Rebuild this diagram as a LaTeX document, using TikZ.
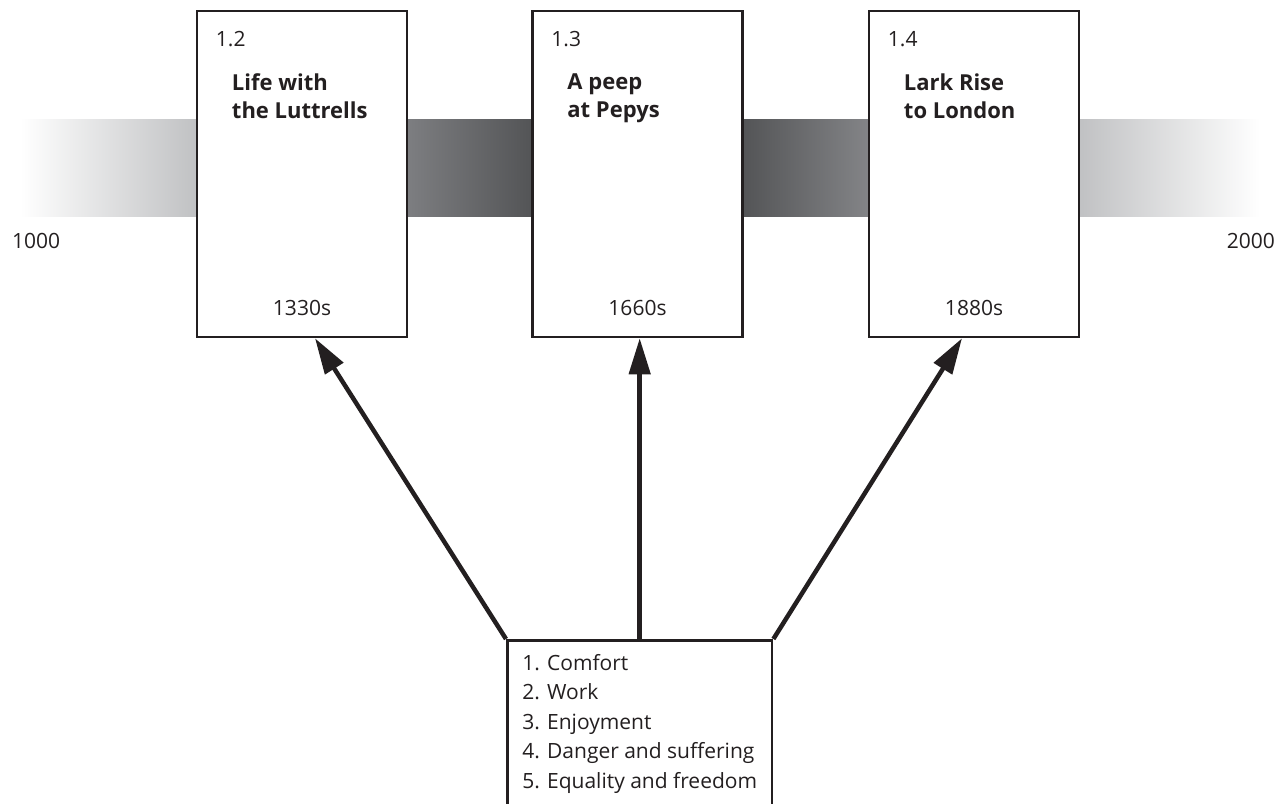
\documentclass[tikz,border=0pt]{standalone}
\usepackage{fontspec}
\setmainfont{Open Sans}
\usetikzlibrary{arrows.meta,positioning}

\definecolor{ink}{RGB}{35,31,32}
\definecolor{bandlight}{RGB}{191,192,194}
\definecolor{bandmid}{RGB}{126,127,130}
\definecolor{banddark}{RGB}{82,83,85}

\tikzset{
  era/.style={draw=ink, fill=white, line width=2.5pt, minimum width=210pt, minimum height=326pt, inner sep=0pt},
  lbl/.style={inner sep=0pt, text=ink, font=\fontsize{21}{25}\selectfont},
  ttl/.style={inner sep=0pt, text=ink, align=left, font=\fontsize{22}{28}\selectfont\bfseries},
  link/.style={draw=ink, line width=4.5pt, -{Triangle[length=36pt,width=21pt]}},
}

\begin{document}
\begin{tikzpicture}[x=1pt,y=-1pt]
\useasboundingbox (0,0) rectangle (1287,803);
\begin{scope}
\clip (0,0) rectangle (1287,803);

% time band
\shade[left color=white, right color=bandlight] (20,119) rectangle (200,216);
\shade[left color=bandmid, right color=banddark] (404,119) rectangle (536,216);
\shade[left color=banddark, right color=bandmid!95!white] (739,119) rectangle (872,216);
\shade[left color=bandlight, right color=white] (1076,119) rectangle (1260,216);

\node[lbl, anchor=base west] (start) at (12,248) {1000};
\node[lbl, anchor=base east] (end) at (1275,248) {2000};

% the three books
\foreach \n/\cx/\num/\title/\yr in {b12/302/1.2/{Life with\\the Luttrells}/1330s,
    b13/637.5/1.3/{A peep\\at Pepys}/1660s,
    b14/974/1.4/{Lark Rise\\to London}/1880s}{
  \node[era] (\n) at (\cx,174) {};
  \node[lbl, anchor=base west] (\n num) at ([shift={(20,37)}]\n.north west) {\num};
  \node[ttl, anchor=north west] (\n ttl) at ([shift={(36,64)}]\n.north west) {\title};
  \node[lbl, anchor=base] (\n yr) at ([shift={(0,-23)}]\n.south) {\yr};
}

% themes
\node[draw=ink, fill=white, line width=2.5pt, anchor=north west, align=left,
  inner xsep=15pt, inner ysep=14pt, text=ink, font=\fontsize{21}{29.5}\selectfont]
  (themes) at (506,639) {1. Comfort\\2. Work\\3. Enjoyment\\4. Danger and suffering\\5. Equality and freedom\rule[-30pt]{0pt}{0pt}};

\coordinate (t12) at ([xshift=13]b12.south);
\coordinate (t14) at ([xshift=-12]b14.south);
\draw[link] (themes.north west) -- (t12);
\draw[link] (themes.north) -- (themes.north |- b13.south);
\draw[link] (themes.north east) -- (t14);
\end{scope}
\end{tikzpicture}
\end{document}
